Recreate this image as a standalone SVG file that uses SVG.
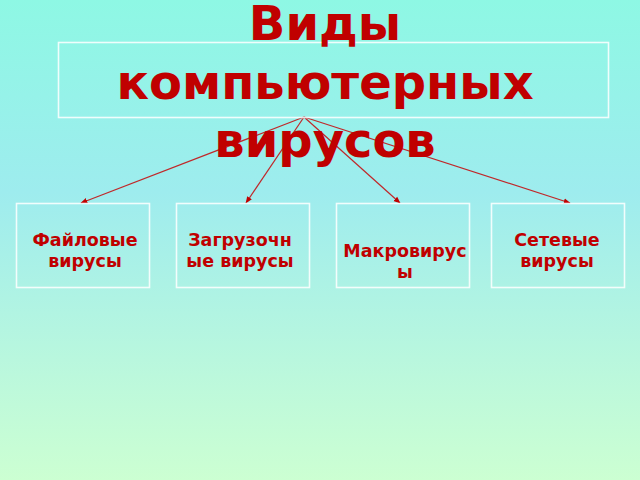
<svg xmlns="http://www.w3.org/2000/svg" width="640" height="480" viewBox="0 0 640 480">
<defs>
<linearGradient id="bg" x1="0" y1="0" x2="0" y2="1">
<stop offset="0" stop-color="#8ef8e4"/>
<stop offset="0.4" stop-color="#9eecee"/>
<stop offset="1" stop-color="#ccffd2"/>
</linearGradient>
<marker id="arr" viewBox="0 0 10 10" refX="9" refY="5" markerWidth="7" markerHeight="7" orient="auto" markerUnits="userSpaceOnUse">
<path d="M0,1 L10,5 L0,9 z" fill="#c00000"/>
</marker>
<style>
.box{fill:none;stroke:#ffffff;stroke-opacity:0.85;stroke-width:1.6}
.t{font-family:"DejaVu Sans",Verdana,sans-serif;font-weight:bold;fill:#c00000;text-anchor:middle}
.title{font-size:48px}
.lbl{font-size:17.5px}
.con{stroke:#c0282a;stroke-width:1.2;fill:none;marker-end:url(#arr)}
</style>
</defs>
<rect x="0" y="0" width="640" height="480" fill="url(#bg)"/>
<g id="connectors">
<line class="con" x1="304" y1="117" x2="81" y2="203"/>
<line class="con" x1="304" y1="117" x2="246" y2="203"/>
<line class="con" x1="304" y1="117" x2="400" y2="203"/>
<line class="con" x1="304" y1="117" x2="570" y2="203"/>
</g>
<g id="title">
<rect class="box" x="58.5" y="42.5" width="550" height="75"/>
<text class="t title"><tspan x="325" y="40">Виды</tspan><tspan x="325" y="99">компьютерных</tspan><tspan x="325" y="157">вирусов</tspan></text>
</g>
<g id="node-file">
<rect class="box" x="16.5" y="203.5" width="133" height="84"/>
<text class="t lbl"><tspan x="85" y="246">Файловые</tspan><tspan x="85" y="267">вирусы</tspan></text>
</g>
<g id="node-boot">
<rect class="box" x="176.5" y="203.5" width="133" height="84"/>
<text class="t lbl"><tspan x="240" y="246">Загрузочн</tspan><tspan x="240" y="267">ые вирусы</tspan></text>
</g>
<g id="node-macro">
<rect class="box" x="336.5" y="203.5" width="133" height="84"/>
<text class="t lbl"><tspan x="405" y="257">Макровирус</tspan><tspan x="405" y="278">ы</tspan></text>
</g>
<g id="node-net">
<rect class="box" x="491.5" y="203.5" width="133" height="84"/>
<text class="t lbl"><tspan x="557" y="246">Сетевые</tspan><tspan x="557" y="267">вирусы</tspan></text>
</g>
</svg>
